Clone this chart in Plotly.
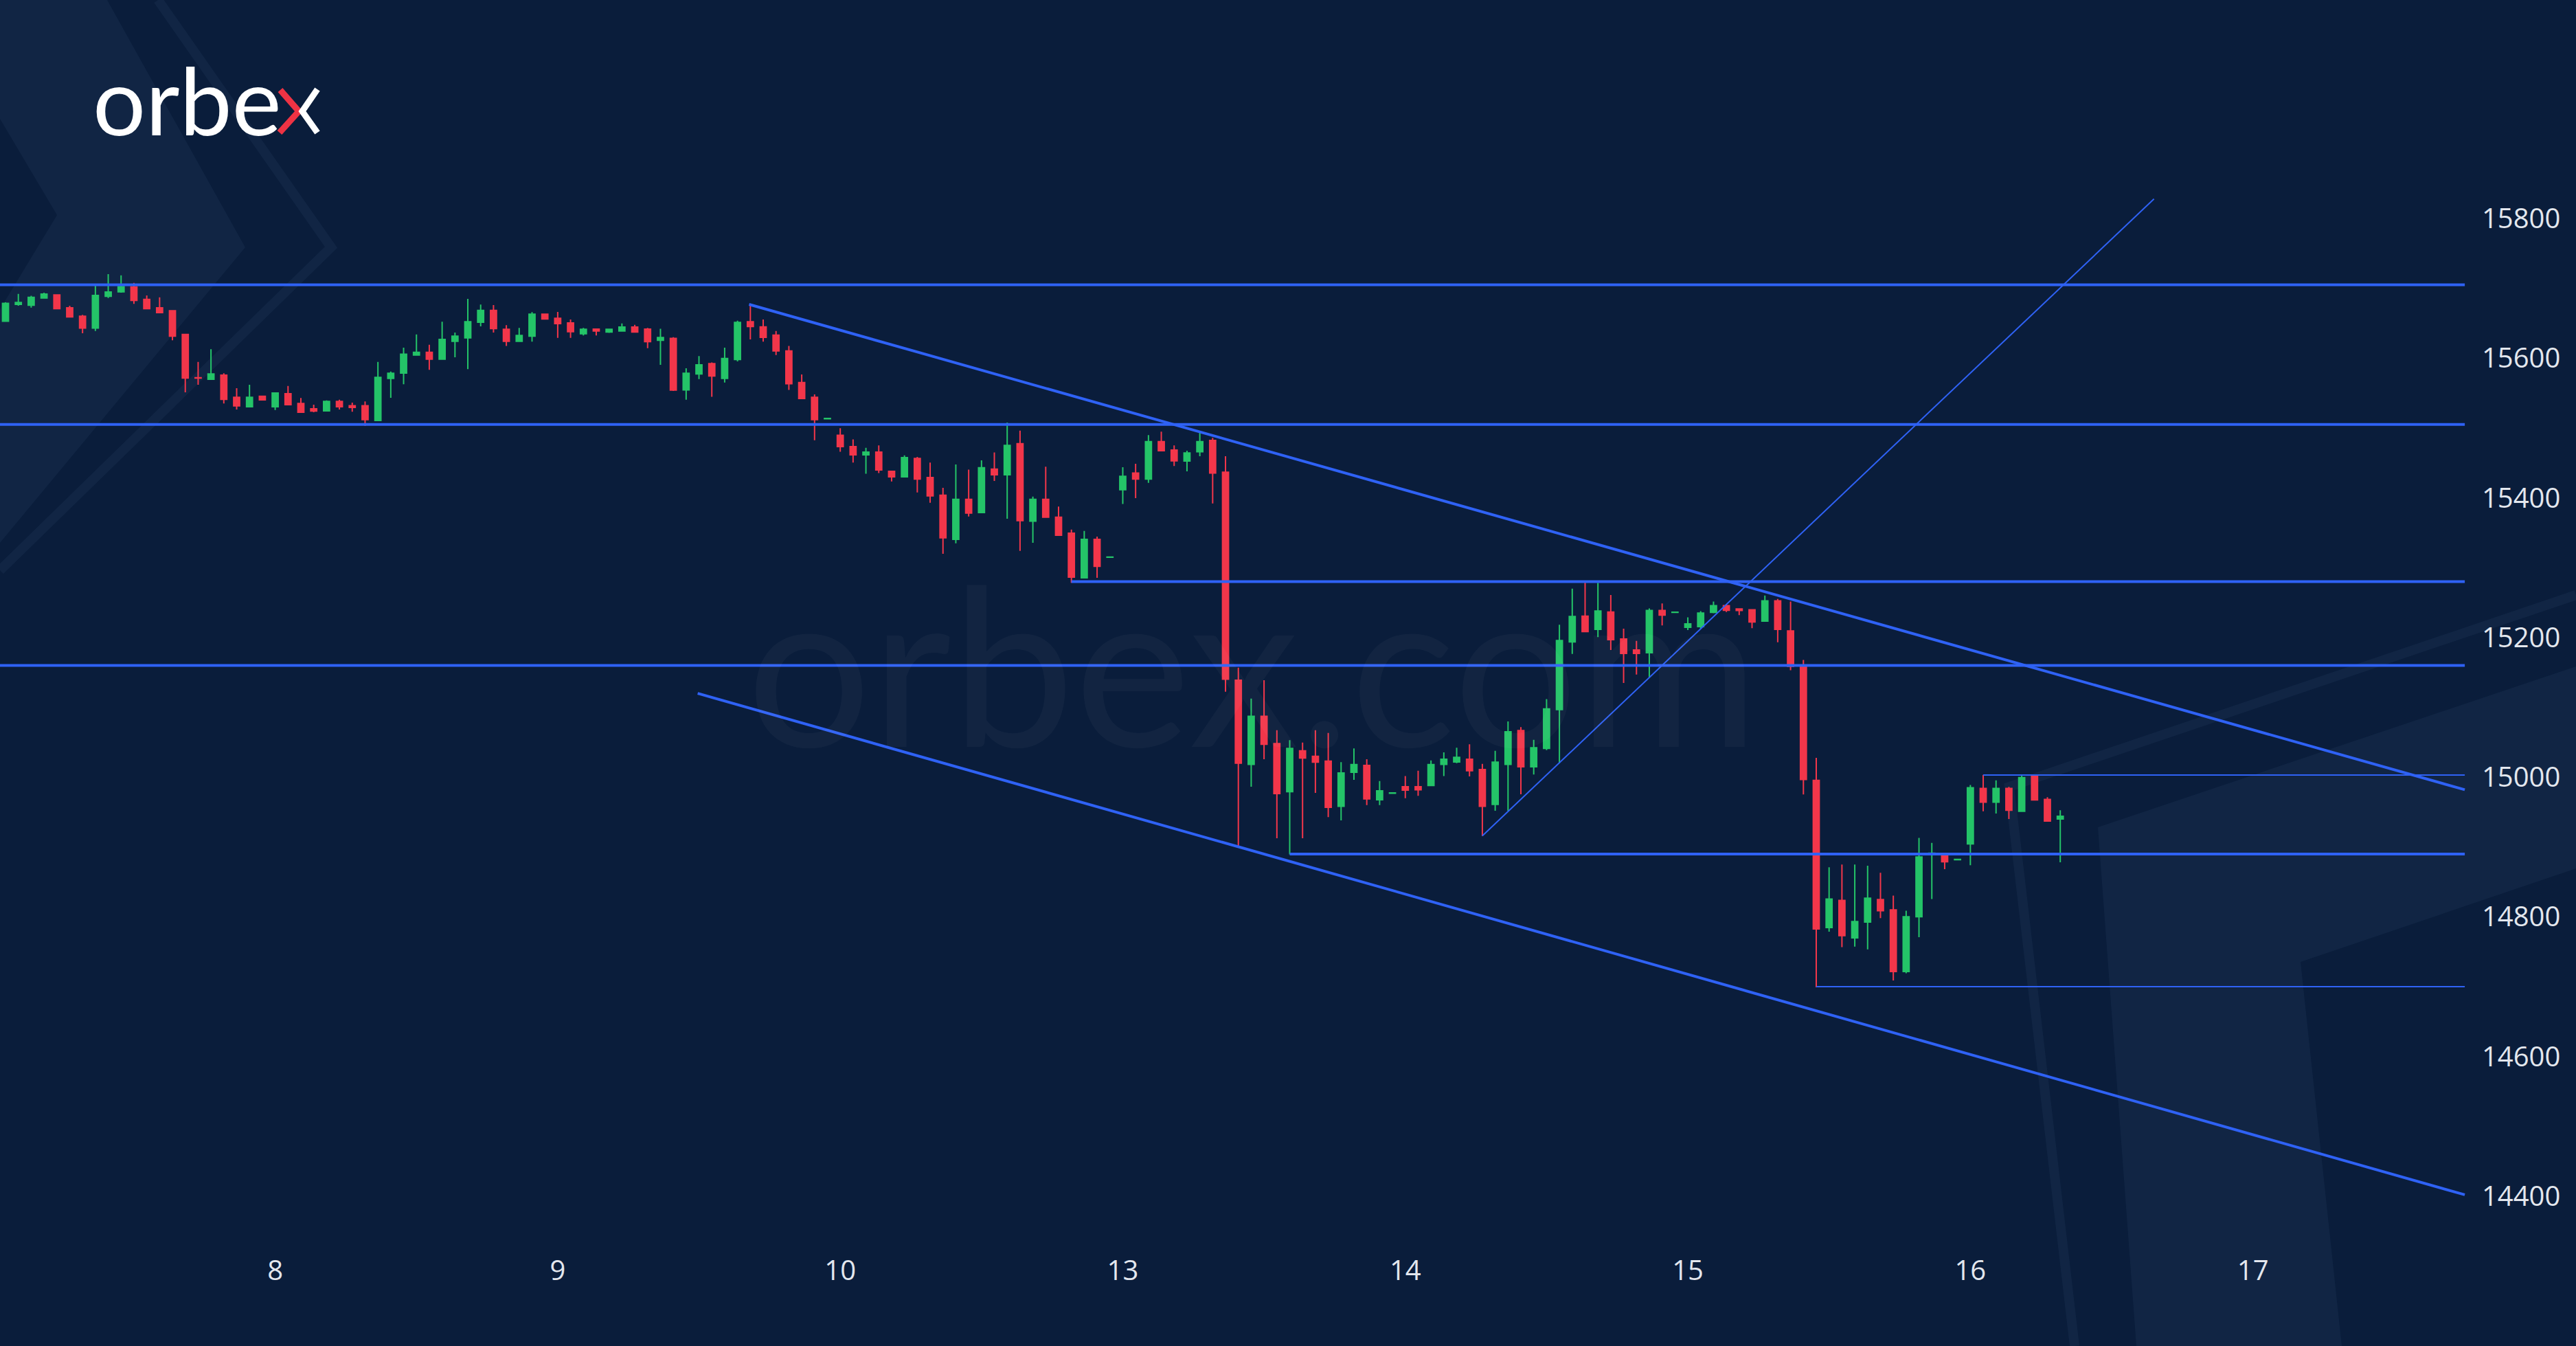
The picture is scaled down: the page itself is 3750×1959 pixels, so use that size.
import plotly.graph_objects as go

# hourly candles, 7 -> 16 march (22 bars per session)
opens = [
    15652.8, 15677.0, 15675.7, 15686.2, 15690.5, 15672.0, 15660.0, 15643.0, 15688.5, 15695.0,
    15702.0, 15684.2, 15672.0, 15667.8, 15634.0, 15572.0, 15569.8, 15575.7, 15543.9, 15530.4,
    15545.5, 15530.4, 15549.1, 15535.0, 15527.5, 15524.5, 15538.0, 15532.0, 15532.0, 15510.7,
    15571.0, 15578.6, 15604.5, 15608.5, 15598.6, 15624.2, 15629.1, 15651.4, 15668.5, 15641.3,
    15624.2, 15631.4, 15663.0, 15657.0, 15650.4, 15635.0, 15641.6, 15637.3, 15639.0, 15644.5,
    15641.6, 15625.5, 15628.2, 15554.6, 15577.3, 15592.1, 15571.0, 15598.0, 15652.1, 15644.9,
    15633.1, 15610.4, 15565.2, 15543.9, 15513.3, 15489.7, 15473.3, 15461.5, 15465.5, 15437.9,
    15430.0, 15456.3, 15429.0, 15403.8, 15340.5, 15397.9, 15378.9, 15441.2, 15433.0, 15477.6,
    15366.7, 15397.9, 15372.3, 15349.4, 15285.4, 15340.5, 15314.9, 15411.7, 15435.6, 15426.8,
    15480.6, 15468.4, 15452.7, 15466.1, 15482.2, 15436.6, 15138.8, 15018.4, 15087.3, 15048.0,
    14979.1, 15037.8, 15029.9, 15023.0, 14958.4, 15007.0, 15016.8, 14967.6, 14977.1, 14986.3,
    14986.3, 14988.0, 15018.4, 15021.7, 15025.7, 15010.9, 14961.0, 15018.4, 15066.7, 15014.8,
    15041.1, 15096.8, 15193.6, 15230.7, 15211.6, 15236.6, 15197.9, 15182.1, 15178.3, 15238.6,
    15235.9, 15214.5, 15215.6, 15235.9, 15245.6, 15240.9, 15239.7, 15223.4, 15252.6, 15209.4,
    15160.0, 14995.4, 14784.6, 14823.5, 14769.8, 14792.4, 14824.7, 14809.9, 14721.6, 14800.2,
    14889.6, 14889.6, 14881.9, 14904.4, 14983.8, 14964.3, 14983.8, 14951.1, 15002.4, 14968.2,
    14940.2,
]
highs = [
    15680.0, 15692.0, 15689.2, 15693.8, 15691.5, 15675.0, 15662.0, 15705.2, 15720.3, 15718.7,
    15707.8, 15689.8, 15687.2, 15669.0, 15634.5, 15594.7, 15612.7, 15578.3, 15557.0, 15561.9,
    15546.0, 15550.5, 15560.3, 15542.9, 15533.4, 15539.6, 15540.6, 15536.3, 15538.0, 15594.7,
    15580.9, 15615.0, 15634.0, 15619.3, 15652.1, 15636.7, 15684.9, 15676.7, 15676.0, 15647.2,
    15643.2, 15665.9, 15663.6, 15666.2, 15655.4, 15643.2, 15642.2, 15642.2, 15649.8, 15647.8,
    15643.2, 15642.2, 15630.0, 15585.5, 15602.9, 15594.0, 15615.0, 15653.7, 15677.3, 15655.4,
    15639.0, 15617.6, 15576.7, 15548.1, 15513.6, 15499.6, 15483.8, 15471.7, 15475.0, 15438.5,
    15460.9, 15458.6, 15450.4, 15414.3, 15447.8, 15440.5, 15453.7, 15465.1, 15507.8, 15496.3,
    15401.8, 15444.5, 15387.4, 15354.6, 15352.6, 15344.4, 15315.2, 15443.8, 15448.8, 15489.8,
    15494.7, 15475.0, 15467.4, 15493.7, 15485.8, 15459.6, 15156.9, 15112.6, 15138.8, 15067.3,
    15052.9, 15049.6, 15067.3, 15063.4, 15021.4, 15041.1, 15025.7, 14994.5, 14977.4, 15001.7,
    15009.3, 15024.0, 15035.5, 15042.1, 15047.0, 15019.1, 15037.8, 15079.8, 15071.6, 15053.5,
    15111.9, 15218.2, 15270.0, 15279.2, 15278.2, 15260.8, 15212.6, 15195.2, 15241.7, 15248.7,
    15236.2, 15228.8, 15237.8, 15251.4, 15247.5, 15241.7, 15240.5, 15260.0, 15255.3, 15251.4,
    15167.8, 15027.7, 14871.0, 14874.8, 14874.8, 14873.3, 14863.2, 14830.5, 14808.7, 14913.0,
    14906.0, 14890.4, 14882.2, 14988.8, 15003.2, 14995.4, 14986.1, 15003.2, 15003.2, 14971.3,
    14952.7,
]
lows = [
    15652.0, 15675.0, 15672.4, 15685.5, 15670.0, 15658.0, 15635.7, 15639.0, 15686.0, 15693.7,
    15677.7, 15670.0, 15664.2, 15625.5, 15551.0, 15561.9, 15569.4, 15535.0, 15526.5, 15529.8,
    15539.6, 15525.8, 15532.4, 15521.9, 15522.5, 15523.9, 15526.5, 15523.2, 15502.9, 15510.5,
    15543.2, 15562.6, 15603.8, 15583.2, 15598.0, 15601.2, 15584.2, 15645.5, 15636.7, 15617.6,
    15623.6, 15623.6, 15655.4, 15629.1, 15629.1, 15632.4, 15632.4, 15636.3, 15638.0, 15636.7,
    15614.4, 15590.4, 15553.0, 15540.6, 15570.0, 15544.8, 15565.2, 15595.3, 15626.8, 15623.6,
    15604.5, 15554.6, 15541.6, 15482.5, 15513.0, 15466.1, 15450.4, 15434.6, 15435.6, 15423.5,
    15429.1, 15407.7, 15393.0, 15319.8, 15334.9, 15373.3, 15378.2, 15424.1, 15370.0, 15324.1,
    15335.6, 15371.7, 15345.4, 15278.2, 15285.0, 15285.4, 15314.6, 15391.3, 15399.5, 15421.5,
    15466.8, 15445.5, 15437.9, 15459.6, 15392.0, 15122.4, 14901.0, 14986.3, 15025.7, 14912.5,
    14889.5, 14912.5, 14977.5, 14942.7, 14938.1, 14996.1, 14960.0, 14960.0, 14976.8, 14969.9,
    14973.2, 14987.3, 15001.7, 15020.1, 15001.0, 14915.8, 14951.9, 14951.9, 14975.5, 15003.7,
    15038.8, 15020.1, 15176.5, 15207.7, 15200.5, 15182.1, 15134.9, 15147.0, 15142.5, 15217.2,
    15235.6, 15210.6, 15212.5, 15234.7, 15236.6, 15232.0, 15213.3, 15223.0, 15193.1, 15153.0,
    14975.2, 14699.0, 14778.8, 14756.6, 14757.4, 14753.5, 14798.2, 14708.8, 14719.3, 14771.0,
    14825.5, 14868.3, 14881.6, 14874.0, 14951.1, 14948.0, 14940.2, 14950.8, 14966.6, 14936.3,
    14878.0,
]
closes = [
    15678.4, 15679.6, 15687.2, 15691.8, 15670.8, 15659.0, 15643.0, 15689.8, 15694.7, 15702.3,
    15682.6, 15670.8, 15665.2, 15631.4, 15571.4, 15571.4, 15577.3, 15541.0, 15531.7, 15543.9,
    15540.3, 15550.1, 15533.4, 15522.5, 15524.2, 15538.0, 15530.4, 15529.4, 15512.0, 15572.4,
    15578.3, 15605.8, 15608.5, 15598.6, 15626.8, 15631.4, 15652.1, 15668.5, 15642.3, 15624.2,
    15632.4, 15662.9, 15656.0, 15649.5, 15638.0, 15641.3, 15639.0, 15641.3, 15644.5, 15637.3,
    15623.6, 15629.5, 15554.3, 15578.3, 15590.4, 15574.4, 15599.6, 15651.1, 15645.2, 15629.8,
    15610.4, 15563.5, 15542.2, 15512.0, 15513.6, 15473.3, 15461.5, 15465.5, 15439.9, 15430.0,
    15457.6, 15426.8, 15402.8, 15342.8, 15397.9, 15378.2, 15443.2, 15433.0, 15475.0, 15367.4,
    15397.9, 15372.3, 15346.4, 15286.4, 15340.5, 15301.8, 15315.2, 15430.7, 15426.8, 15480.6,
    15467.4, 15453.0, 15464.2, 15480.6, 15435.6, 15140.4, 15020.1, 15087.3, 15047.0, 14976.5,
    15041.1, 15027.3, 15021.4, 14956.8, 15006.0, 15018.1, 14968.9, 14980.4, 14977.4, 14981.4,
    14982.0, 15018.1, 15025.7, 15028.3, 15009.3, 14958.4, 15021.4, 15065.0, 15014.8, 15042.1,
    15097.8, 15195.6, 15230.0, 15208.4, 15237.9, 15196.9, 15177.2, 15177.2, 15238.6, 15232.0,
    15236.2, 15219.5, 15235.0, 15245.6, 15239.0, 15238.6, 15222.2, 15252.6, 15211.7, 15158.8,
    14996.6, 14782.7, 14825.4, 14773.0, 14793.2, 14826.6, 14808.7, 14721.6, 14800.2, 14885.8,
    14891.2, 14878.8, 14882.2, 14984.9, 14964.3, 14983.8, 14952.7, 14999.3, 14967.4, 14937.1,
    14944.1,
]

day_labels = ["8", "9", "10", "13", "14", "15", "16", "17"]
day_first_bar = [21, 43, 65, 87, 109, 131, 153, 175]
price_ticks = [14400, 14600, 14800, 15000, 15200, 15400, 15600, 15800]

# drawn levels (bar index, price)
full_levels = [15705, 15505, 15160]
ray_levels = [(83, 15280), (100, 14890)]
thin_ray_levels = [(141, 14700), (154, 15003)]
channel_top = [(57.9, 15677), (191.5, 14982)]
channel_bottom = [(53.9, 15120), (191.5, 14402)]
rising_line = [(115, 14916), (167.3, 15828)]
lines_end = 191.5

# --- page geometry (pixels) ---
W, H = 3750, 1959
PLOT_R, PLOT_T, PLOT_B = 3590, 100, 1800
BAR_PX, FIRST_BAR_PX = 18.695, 8
PT_PX, Y15800_PX = 1.0164, 318

BG = "#0a1d3b"
LIGHT = "rgba(120,150,200,0.07)"
GREEN = "#24c468"
RED = "#f2364a"
BLUE = "#2f62f5"

x_range = [-FIRST_BAR_PX / BAR_PX, (PLOT_R - FIRST_BAR_PX) / BAR_PX]
y_range = [15800 - (PLOT_B - Y15800_PX) / PT_PX, 15800 + (Y15800_PX - PLOT_T) / PT_PX]


def paper(x, y):
    return x / PLOT_R, (PLOT_B - y) / (PLOT_B - PLOT_T)


def path(points, close=True):
    pts = [paper(x, y) for x, y in points]
    d = "M " + " L ".join(f"{a:.5f},{b:.5f}" for a, b in pts)
    return d + (" Z" if close else "")


fig = go.Figure()
fig.add_trace(go.Candlestick(
    x=list(range(len(opens))),
    open=opens, high=highs, low=lows, close=closes,
    increasing=dict(line=dict(color=GREEN, width=2), fillcolor=GREEN),
    decreasing=dict(line=dict(color=RED, width=2), fillcolor=RED),
    whiskerwidth=0,
    hoverinfo="skip",
))

shapes = []
# background decoration (brand chevrons)
for pts in [
    [(0, 0), (156, 0), (357, 360), (0, 790)],
    [(3054, 1204), (3750, 970), (3750, 1264), (3349, 1400), (3409, 1959), (3110, 1959)],
]:
    shapes.append(dict(type="path", xref="paper", yref="paper", path=path(pts),
                       fillcolor=LIGHT, line=dict(width=0), layer="below"))
shapes.append(dict(type="path", xref="paper", yref="paper",
                   path=path([(0, 173), (83, 313), (0, 450)]),
                   fillcolor=BG, line=dict(width=0), layer="below"))
for pts in [[(230, 0), (482, 360), (0, 830)],
            [(3750, 866), (2925, 1145), (3020, 1959)]]:
    shapes.append(dict(type="path", xref="paper", yref="paper", path=path(pts, close=False),
                       line=dict(color=LIGHT, width=14), layer="below"))

for lvl in full_levels:
    shapes.append(dict(type="line", x0=x_range[0], x1=lines_end, y0=lvl, y1=lvl,
                       line=dict(color=BLUE, width=4)))
for start, lvl in ray_levels:
    shapes.append(dict(type="line", x0=start, x1=lines_end, y0=lvl, y1=lvl,
                       line=dict(color=BLUE, width=4)))
for start, lvl in thin_ray_levels:
    shapes.append(dict(type="line", x0=start, x1=lines_end, y0=lvl, y1=lvl,
                       line=dict(color=BLUE, width=2)))
for (xa, ya), (xb, yb) in [channel_top, channel_bottom]:
    shapes.append(dict(type="line", x0=xa, y0=ya, x1=xb, y1=yb, line=dict(color=BLUE, width=4)))
(xa, ya), (xb, yb) = rising_line
shapes.append(dict(type="line", x0=xa, y0=ya, x1=xb, y1=yb, line=dict(color=BLUE, width=2)))

# logo "x": red and white halves
shapes.append(dict(type="path", xref="paper", yref="paper",
                   path=path([(408, 131), (435, 162), (407, 193)], close=False),
                   line=dict(color="#ee3344", width=9)))
shapes.append(dict(type="path", xref="paper", yref="paper",
                   path=path([(462, 130), (440, 162), (462, 193)], close=False),
                   line=dict(color="white", width=9)))

lx, ly = paper(133, 144)
wx, wy = paper(1823, 963)
annotations = [
    dict(text="orbe", x=lx, y=ly, xref="paper", yref="paper", xanchor="left", yanchor="middle",
         showarrow=False, font=dict(family="Lato", size=136, color="white")),
    dict(text="orbex.com", x=wx, y=wy, xref="paper", yref="paper", xanchor="center",
         yanchor="middle", showarrow=False,
         font=dict(family="Lato", size=320, color="rgba(255,255,255,0.035)")),
]

fig.update_layout(
    width=W, height=H,
    margin=dict(l=0, r=W - PLOT_R, t=PLOT_T, b=H - PLOT_B),
    paper_bgcolor=BG, plot_bgcolor="rgba(0,0,0,0)",
    showlegend=False, boxgap=0.33,
    shapes=shapes, annotations=annotations,
    font=dict(family="Open Sans", color="#e3e7ee", size=40),
)
fig.update_xaxes(range=x_range, rangeslider=dict(visible=False), showgrid=False, zeroline=False,
                 tickmode="array", tickvals=day_first_bar, ticktext=day_labels, ticks="",
                 ticklabelstandoff=22, tickfont=dict(size=40, color="#e3e7ee"), showline=False)
fig.update_yaxes(range=y_range, side="right", showgrid=False, zeroline=False,
                 tickmode="array", tickvals=price_ticks, ticktext=[str(p) for p in price_ticks],
                 ticks="", ticklabelstandoff=22,
                 tickfont=dict(size=40, color="#e3e7ee"), showline=False)

fig.write_html("out.html", config={"displayModeBar": False}, post_script=(
    "document.body.style.margin='0';document.body.style.background='" + BG + "';"))
